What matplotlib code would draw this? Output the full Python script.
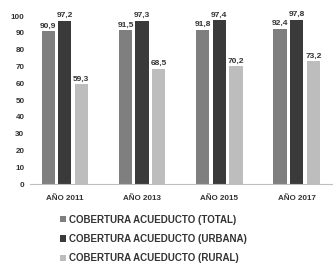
import matplotlib
matplotlib.use("Agg")
import matplotlib.pyplot as plt
import numpy as np

plt.rcParams['font.family'] = ['Liberation Sans Narrow', 'Liberation Sans', 'DejaVu Sans']

years = ["AÑO 2011", "AÑO 2013", "AÑO 2015", "AÑO 2017"]
total = [90.9, 91.5, 91.8, 92.4]
urbana = [97.2, 97.3, 97.4, 97.8]
rural = [59.3, 68.5, 70.2, 73.2]
series_names = ["COBERTURA ACUEDUCTO (TOTAL)", "COBERTURA ACUEDUCTO (URBANA)",
                "COBERTURA ACUEDUCTO (RURAL)"]
colors = ["#7f7f7f", "#3a3a3a", "#bdbdbd"]

fig = plt.figure(figsize=(3.33, 2.64), dpi=100)
ax = fig.add_axes([0.09, 0.303, 0.91, 0.636])

x = np.arange(len(years))
w = 0.17
step = 0.215
for i, (vals, name, c) in enumerate(zip([total, urbana, rural], series_names, colors)):
    bars = ax.bar(x + (i - 1) * step, vals, w, color=c, label=name)
    for b, v in zip(bars, vals):
        ax.text(b.get_x() + b.get_width() / 2, v + 1, f"{v:.1f}".replace(".", ","),
                ha="center", va="bottom", fontsize=6, fontweight="bold",
                color="#333333", clip_on=False)

ax.set_xlim(-0.45, 3.47)
ax.set_ylim(0, 100)
ax.set_yticks(range(0, 101, 10))
ax.set_xticks(x)
ax.set_xticklabels(years, fontsize=5.8, fontweight="bold", color="#333333")
ax.tick_params(axis="y", labelsize=5.8, length=0, labelcolor="#333333", pad=4)
ax.tick_params(axis="x", length=0, pad=8)
for lbl in ax.get_yticklabels():
    lbl.set_fontweight("bold")
for s in ["top", "right", "left"]:
    ax.spines[s].set_visible(False)
ax.spines["bottom"].set_color("#bfbfbf")
ax.spines["bottom"].set_linewidth(0.8)

fig.legend(loc="upper left", bbox_to_anchor=(0.165, 0.205), frameon=False,
           prop={"size": 7, "weight": "bold"}, handlelength=0.6, handleheight=0.6,
           handletextpad=0.3, labelspacing=0.95, borderpad=0, labelcolor="#333333")

fig.savefig("out.png", dpi=100)
